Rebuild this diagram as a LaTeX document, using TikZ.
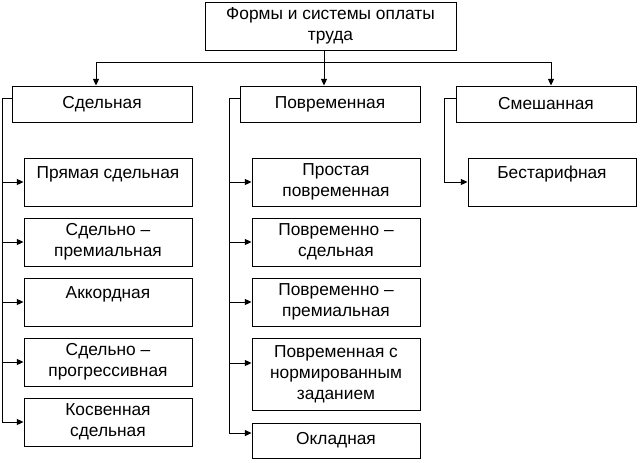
\documentclass[tikz,border=0pt]{standalone}
\usepackage{fontspec}
\setmainfont{Liberation Sans}
\usetikzlibrary{arrows.meta}

\begin{document}
\begin{tikzpicture}[x=0.75pt,y=-0.75pt,
        box/.style={draw,line width=0.7pt,align=center,inner sep=0pt,font=\fontsize{13pt}{15.75pt}\selectfont},
        kind/.style={box,minimum width=135pt,minimum height=27pt},
        sub/.style={box,minimum width=126pt,minimum height=36pt},
        raised/.style={text depth=14pt},
        wire/.style={line width=0.7pt},
        arr/.style={wire,-{Triangle[length=5pt,width=4.5pt]}}]
        \useasboundingbox (0,0) rectangle (640,462);

        \node[box,minimum width=188.25pt,minimum height=36pt] (forms) at (330.5,26) {Формы и системы оплаты\\труда};

        \node[kind] (sd) at (102,104) {Сдельная};
        \node[kind] (pv) at (330,104) {Повременная};
        \node[kind] (sm) at (546,104) {Смешанная};

        \node[sub,raised] (sd1) at (108,182) {Прямая сдельная};
        \node[sub] (sd2) at (108,242) {Сдельно –\\премиальная};
        \node[sub,raised] (sd3) at (108,302) {Аккордная};
        \node[sub] (sd4) at (108,362) {Сдельно –\\прогрессивная};
        \node[sub] (sd5) at (108,422) {Косвенная\\сдельная};

        \node[sub] (pv1) at (336,182) {Простая\\повременная};
        \node[sub] (pv2) at (336,242) {Повременно –\\сдельная};
        \node[sub] (pv3) at (336,302) {Повременно –\\премиальная};
        \node[sub,minimum height=54pt] (pv4) at (336,374) {Повременная с\\нормированным\\заданием};
        \node[sub,minimum height=26.25pt] (pv5) at (336,440.5) {Окладная};

        \node[sub,raised] (sm1) at (552,182) {Бестарифная};

        \coordinate (hub) at (324,62);
        \draw[wire] (forms.south -| hub) -- (hub);
        \draw[arr] (hub) -| ([xshift=-4.5pt]sd.north);
        \draw[arr] (hub) -- (hub |- pv.north);
        \draw[arr] (hub) -| ([xshift=3.75pt]sm.north);

        \coordinate (sdbus) at (2,98);
        \draw[wire] (sd.west |- sdbus) -- (sdbus) -- (sdbus |- sd5.west);
        \draw[arr] (sdbus |- sd1.west) -- (sd1.west);
        \draw[arr] (sdbus |- sd2.west) -- (sd2.west);
        \draw[arr] (sdbus |- sd3.west) -- (sd3.west);
        \draw[arr] (sdbus |- sd4.west) -- (sd4.west);
        \draw[arr] (sdbus |- sd5.west) -- (sd5.west);

        \coordinate (pvbus) at (229,98);
        \coordinate (pv4in) at ([yshift=8.25pt]pv4.west);
        \coordinate (pv5in) at ([yshift=5.6pt]pv5.west);
        \draw[wire] (pv.west |- pvbus) -- (pvbus) -- (pvbus |- pv5in);
        \draw[arr] (pvbus |- pv1.west) -- (pv1.west);
        \draw[arr] (pvbus |- pv2.west) -- (pv2.west);
        \draw[arr] (pvbus |- pv3.west) -- (pv3.west);
        \draw[arr] (pvbus |- pv4in) -- (pv4in);
        \draw[arr] (pvbus |- pv5in) -- (pv5in);

        \coordinate (smbus) at (444,98);
        \draw[wire] (sm.west |- smbus) -- (smbus) -- (smbus |- sm1.west);
        \draw[arr] (smbus |- sm1.west) -- (sm1.west);
    \end{tikzpicture}
\end{document}
